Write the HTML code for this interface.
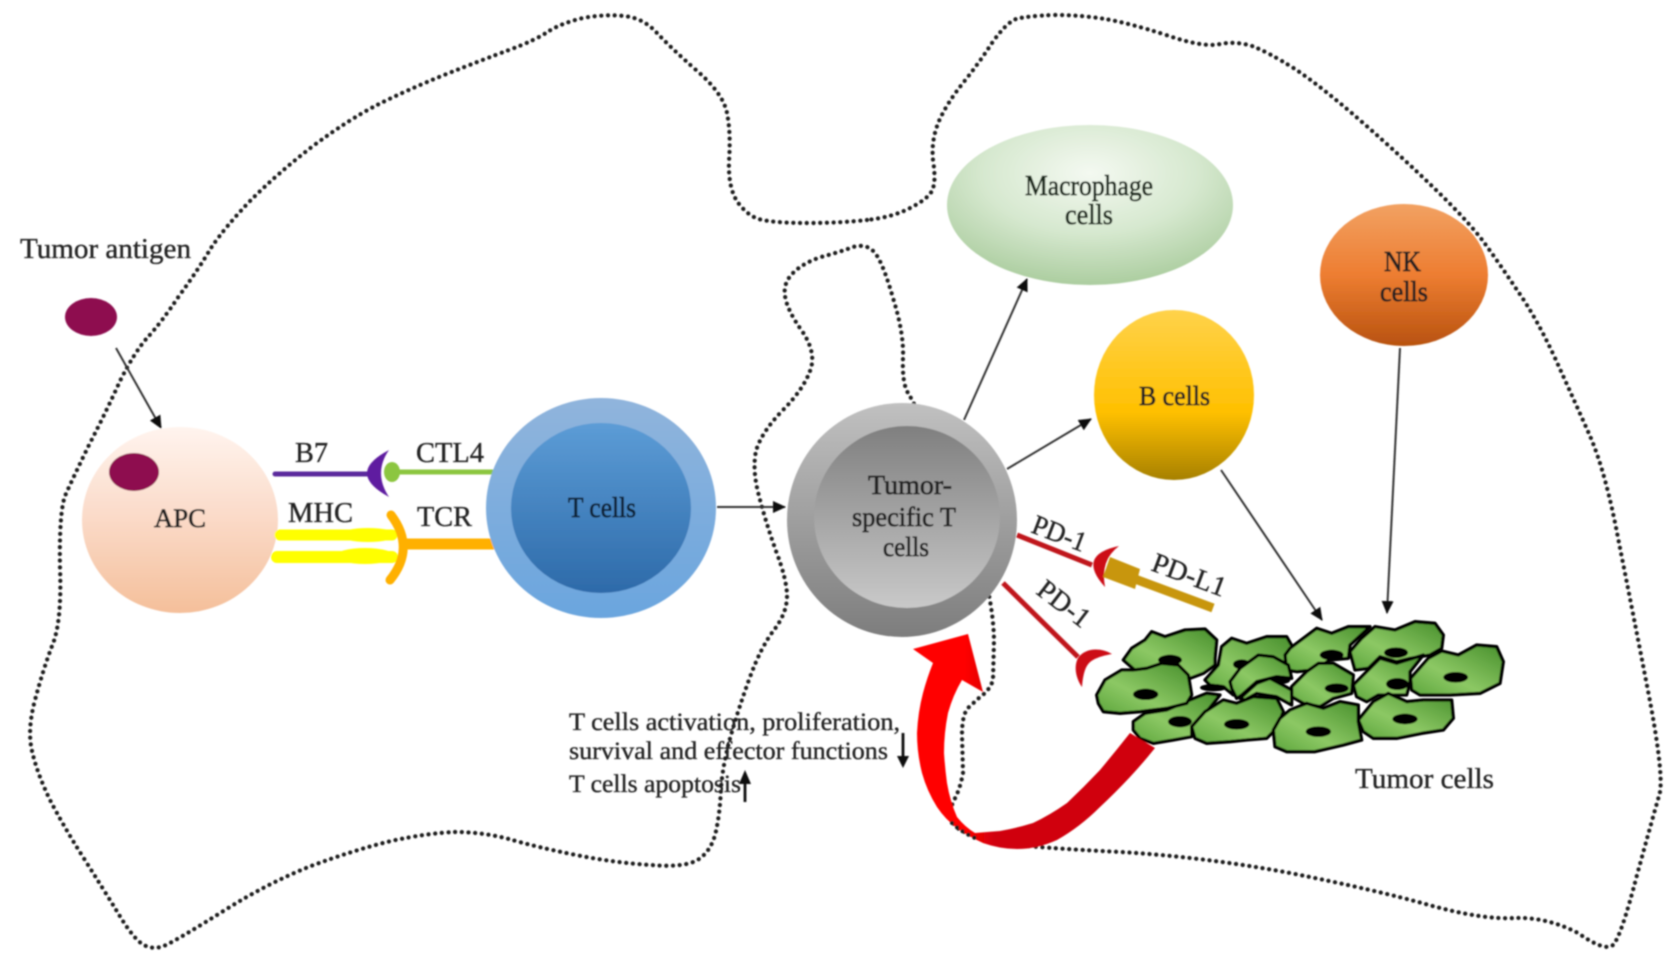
<!DOCTYPE html>
<html>
<head>
<meta charset="utf-8">
<style>
html,body{margin:0;padding:0;background:#fff;width:1677px;height:965px;overflow:hidden}
svg{display:block}
text{font-family:"Liberation Serif",serif;fill:#222;stroke:#222;stroke-width:.35px;font-size:28px}
.b{stroke-width:.7px}
.c{stroke:#000;stroke-width:10;stroke-linejoin:round;fill:url(#cell)}
.n{fill:#000}
.a{stroke:#333;stroke-width:2;fill:none;marker-end:url(#ah)}
</style>
</head>
<body>
<svg width="1677" height="965" viewBox="0 0 1677 965" xmlns="http://www.w3.org/2000/svg">
<defs>
<filter id="soft" x="-5%" y="-5%" width="110%" height="110%"><feGaussianBlur stdDeviation="0.7"/></filter>
<marker id="ah" markerUnits="userSpaceOnUse" markerWidth="14" markerHeight="12" refX="12" refY="6" orient="auto"><path d="M0,0 L13,6 L0,12 Z" fill="#111"/></marker>
<linearGradient id="apc" x1="0" y1="0" x2="0" y2="1"><stop offset="0" stop-color="#fff4ee"/><stop offset=".45" stop-color="#fbdccb"/><stop offset="1" stop-color="#f4bf9a"/></linearGradient>
<linearGradient id="t1" x1="0" y1="0" x2="0" y2="1"><stop offset="0" stop-color="#90b4dc"/><stop offset="1" stop-color="#6aa5de"/></linearGradient>
<linearGradient id="t2" x1="0" y1="0" x2="0" y2="1"><stop offset="0" stop-color="#5c9cd6"/><stop offset="1" stop-color="#2d6aa9"/></linearGradient>
<linearGradient id="g1" x1="0" y1="0" x2="0" y2="1"><stop offset="0" stop-color="#c0c0c0"/><stop offset="1" stop-color="#7d7d7d"/></linearGradient>
<linearGradient id="g2" x1="0" y1="0" x2="0" y2="1"><stop offset="0" stop-color="#7f7f7f"/><stop offset="1" stop-color="#c9c9c9"/></linearGradient>
<radialGradient id="mac" cx=".5" cy=".3" r=".75"><stop offset="0" stop-color="#f4f9f1"/><stop offset=".5" stop-color="#d6e8cf"/><stop offset="1" stop-color="#a5c998"/></radialGradient>
<linearGradient id="b" x1="0" y1="0" x2="0" y2="1"><stop offset="0" stop-color="#ffd24a"/><stop offset=".6" stop-color="#ffc000"/><stop offset="1" stop-color="#a68000"/></linearGradient>
<linearGradient id="nk" x1="0" y1="0" x2="0" y2="1"><stop offset="0" stop-color="#f2a162"/><stop offset=".5" stop-color="#ed7d31"/><stop offset="1" stop-color="#b8520f"/></linearGradient>
<linearGradient id="cell" x1="0" y1="1" x2="1" y2="0"><stop offset="0" stop-color="#5ca53c"/><stop offset=".4" stop-color="#8cc864"/><stop offset="1" stop-color="#478f2c"/></linearGradient>
<linearGradient id="red" gradientUnits="userSpaceOnUse" x1="965" y1="0" x2="995" y2="0"><stop offset="0" stop-color="#ff0000"/><stop offset="1" stop-color="#d0000a"/></linearGradient>
</defs>
<rect width="1677" height="965" fill="#fff"/>
<g filter="url(#soft)">

<!-- dotted outline -->
<path fill="none" stroke="#1a1a1a" stroke-width="4.2" stroke-linecap="round" stroke-dasharray="0.1 6.6" d="M867,220 Q840,223 808,223 Q777,223 763,220 Q750,218 739,204 Q728,190 729,161 Q731,133 727,113 Q723,93 696,70 Q670,47 656,32 Q643,18 624,16 Q605,14 583,18 Q562,23 549,31 Q536,40 509,50 Q482,60 444,75 Q407,90 377,105 Q348,120 313,146 Q278,173 251,200 Q225,227 211,248 Q198,270 179,296 Q161,323 147,338 Q134,353 120,381 Q107,410 89,445 Q72,480 65,496 Q59,513 60,568 Q62,623 52,646 Q43,670 35,700 Q27,730 32,751 Q37,773 50,800 Q64,827 83,857 Q102,887 118,913 Q134,940 144,945 Q155,951 168,944 Q182,937 225,910 Q268,883 311,866 Q354,850 391,841 Q428,833 455,832 Q482,832 509,839 Q536,847 576,855 Q616,863 651,865 Q686,868 699,859 Q712,850 716,831 Q720,813 721,788 Q723,763 731,735 Q739,707 750,677 Q761,647 774,630 Q787,613 787,596 Q787,580 776,551 Q766,523 759,496 Q752,470 756,451 Q761,433 782,411 Q803,390 810,371 Q817,353 802,331 Q787,310 785,296 Q783,283 793,273 Q803,263 821,257 Q840,252 853,247 Q867,243 875,253 Q883,263 893,298 Q904,333 903,358 Q902,383 908,393 Q915,404 937,452 Q960,500 976,548 Q993,597 994,640 L993,680 Q990,690 980,697 L968,708 Q962,715 962,735 L963,773 Q960,790 953,802 Q948,815 955,826 Q965,835 998,843 Q1038,848 1121,852 Q1204,857 1290,873 Q1376,890 1429,905 Q1483,920 1515,918 Q1547,917 1578,933 Q1605,952 1613,945 Q1621,937 1637,875 Q1654,813 1659,796 Q1665,780 1649,696 Q1633,613 1619,543 Q1606,473 1590,436 Q1574,400 1555,358 Q1536,317 1517,290 Q1499,263 1483,241 Q1467,220 1434,188 Q1402,157 1362,122 Q1322,87 1295,69 Q1268,52 1252,46 Q1236,41 1220,44 Q1204,48 1166,35 Q1129,23 1105,19 Q1081,15 1054,15 Q1027,16 1016,19 Q1006,23 992,43 Q979,63 963,83 Q947,103 939,121 Q931,140 933,160 Q936,180 933,188 Q931,197 912,207 Q894,217 867,220 Z"/>

<!-- antigen -->
<ellipse cx="91" cy="317" rx="26" ry="19" fill="#8e1150"/>
<line class="a" x1="116" y1="348" x2="161" y2="428"/>

<!-- APC -->
<ellipse cx="180" cy="520" rx="98" ry="93" fill="url(#apc)"/>
<ellipse cx="134" cy="472" rx="25" ry="19" fill="#8e1150"/>

<!-- Receptors -->
<line x1="275" y1="474" x2="368" y2="474" stroke="#5b2a9d" stroke-width="5" stroke-linecap="round"/>
<path d="M389,450 Q345,473 389,497 Q373,473 389,450Z" fill="#5f1fa0"/>
<ellipse cx="392" cy="472" rx="8" ry="10" fill="#8cc63f"/>
<line x1="392" y1="472" x2="497" y2="472" stroke="#8cc63f" stroke-width="5"/>
<line x1="280" y1="535" x2="392" y2="535" stroke="#ffff00" stroke-width="11" stroke-linecap="round"/>
<line x1="277" y1="557" x2="392" y2="557" stroke="#ffff00" stroke-width="12" stroke-linecap="round"/>
<ellipse cx="368" cy="535" rx="28" ry="7" fill="#ffff00"/>
<ellipse cx="365" cy="556" rx="30" ry="8" fill="#ffff00"/>
<line x1="400" y1="544" x2="497" y2="544" stroke="#ffb000" stroke-width="11"/>
<path d="M391,515 Q416,548 390,580" fill="none" stroke="#ffb000" stroke-width="9" stroke-linecap="round"/>

<!-- T cells -->
<ellipse cx="601" cy="508" rx="115" ry="110" fill="url(#t1)"/>
<ellipse cx="601" cy="508" rx="90" ry="85" fill="url(#t2)"/>
<line class="a" x1="717" y1="507" x2="785" y2="507"/>

<!-- Tumor-specific T -->
<ellipse cx="902" cy="520" rx="115" ry="117" fill="url(#g1)"/>
<ellipse cx="907" cy="517" rx="93" ry="91" fill="url(#g2)"/>

<!-- Others -->
<ellipse cx="1090" cy="205" rx="143" ry="80" fill="url(#mac)"/>
<ellipse cx="1174" cy="395" rx="80" ry="85" fill="url(#b)"/>
<ellipse cx="1404" cy="275" rx="84" ry="71" fill="url(#nk)"/>

<line class="a" x1="964" y1="420" x2="1027" y2="279"/>
<line class="a" x1="1007" y1="469" x2="1091" y2="419"/>
<line class="a" x1="1221" y1="470" x2="1322" y2="620"/>
<line class="a" x1="1400" y1="348" x2="1387" y2="613"/>

<!-- PD-1 / PD-L1 -->
<line x1="1017" y1="535" x2="1092" y2="565" stroke="#c0141c" stroke-width="5"/>
<path d="M1119,546 Q1076,555 1105,587 Q1100,560 1119,546Z" fill="#cc0a14"/>
<polygon points="1110,557 1140,569 1135,589 1103,577" fill="#c8960e"/>
<line x1="1135" y1="579" x2="1213" y2="608" stroke="#c8960e" stroke-width="9"/>
<line x1="1003" y1="583" x2="1078" y2="657" stroke="#c0141c" stroke-width="5"/>
<path d="M1112,654 C1100,647 1085,648 1078,658 C1073,668 1077,680 1082,687 C1083,675 1085,664 1093,660 C1098,657 1106,655 1112,654Z" fill="#cc0a14"/>

<!-- Tumor cells : left crop frame -->
<g transform="translate(1090,615) scale(.33333)">
 <polygon class="c" points="100,135 125,100 165,75 185,50 225,65 285,45 345,42 380,75 375,130 375,150 340,175 300,190 200,190 140,170"/>
 <ellipse class="n" cx="240" cy="135" rx="36" ry="16"/>
 <polygon class="c" points="345,195 385,150 395,95 425,70 470,85 530,65 590,65 610,100 600,190 500,230 430,240 400,215 360,210"/>
 <ellipse class="n" cx="370" cy="218" rx="40" ry="11"/>
 <ellipse class="n" cx="455" cy="148" rx="26" ry="15"/>
</g>
<!-- right crop frame -->
<g transform="translate(1290,615) scale(.33333)">
 <polygon class="c" points="-15,120 0,100 40,70 80,40 125,55 175,35 240,35 180,90 175,130 120,135 70,165 20,170 -10,165"/>
 <ellipse class="n" cx="125" cy="120" rx="36" ry="16"/>
 <polygon class="c" points="180,110 215,70 255,35 315,45 375,20 435,25 460,60 455,100 420,120 360,130 320,140 270,125 235,160 195,165"/>
 <ellipse class="n" cx="318" cy="113" rx="36" ry="16"/>
 <polygon class="c" points="5,215 50,170 85,145 130,145 190,180 185,235 130,250 90,275 40,265 5,245"/>
 <ellipse class="n" cx="140" cy="220" rx="36" ry="15"/>
 <polygon class="c" points="190,210 240,160 270,130 320,145 400,120 360,170 360,200 350,240 265,240 230,260 200,245"/>
 <ellipse class="n" cx="322" cy="207" rx="34" ry="18"/>
</g>
<g transform="translate(1090,615) scale(.33333)">
 <polygon class="c" points="420,200 450,160 505,120 550,125 595,150 605,190 560,185 500,200 455,240 440,250 425,220"/>
 <ellipse class="n" cx="575" cy="195" rx="26" ry="12"/>
 <polygon class="c" points="450,250 500,205 540,190 605,225 605,270 560,245 500,235 465,255"/>
</g>
<g transform="translate(1290,615) scale(.33333)">
 <polygon class="c" points="362,190 415,130 455,108 505,120 560,90 620,95 640,140 630,205 570,235 480,240 390,240 365,225"/>
 <ellipse class="n" cx="497" cy="187" rx="37" ry="16"/>
 <polygon class="c" points="205,315 250,260 295,235 350,260 400,255 485,255 490,310 460,345 395,355 320,370 250,370 220,350"/>
 <ellipse class="n" cx="345" cy="312" rx="38" ry="16"/>
</g>
<g transform="translate(1090,615) scale(.33333)">
 <polygon class="c" points="130,320 165,295 230,285 300,255 350,235 390,240 350,290 305,340 305,365 250,375 190,385 150,370 130,345"/>
 <ellipse class="n" cx="270" cy="320" rx="36" ry="17"/>
 <polygon class="c" points="20,240 45,195 95,165 130,165 170,160 215,145 265,150 295,180 305,240 290,265 230,280 150,290 90,295 40,290 25,265"/>
 <ellipse class="n" cx="167" cy="238" rx="38" ry="17"/>
 <polygon class="c" points="305,335 345,290 400,255 440,265 490,245 560,250 580,290 560,340 530,370 470,375 420,380 350,385 315,370"/>
 <ellipse class="n" cx="440" cy="328" rx="38" ry="16"/>
</g>
<g transform="translate(1290,615) scale(.33333)">
 <polygon class="c" points="-50,345 -30,310 0,285 50,265 100,280 150,260 205,270 205,320 215,375 160,390 75,410 -10,410 -45,395"/>
 <ellipse class="n" cx="85" cy="350" rx="38" ry="16"/>
</g>

<!-- Red curved arrow -->
<path fill="url(#red)" d="M1130,733 L1155,748 Q1143,763 1130,777 Q1115,793 1100,807 Q1080,827 1057,840 Q1037,849 1017,849 Q1000,849 983,843 Q970,837 957,828 Q945,819 937,807 Q927,791 922,773 Q917,753 917,733 Q918,712 923,693 Q927,678 933,663 L913,649 L968,634 L983,692 L962,680 Q953,695 948,713 Q944,733 944,753 Q945,768 947,783 Q950,801 957,817 Q965,827 975,833 Q987,832 1000,831 Q1017,828 1033,823 Q1050,815 1067,803 Q1084,787 1100,770 Q1115,752 1130,733 Z"/>
<path fill="none" stroke="#1a1a1a" stroke-width="4.2" stroke-linecap="round" stroke-dasharray="0.1 6.6" d="M952,823 Q960,831 975,838"/>

<!-- small arrows -->
<line x1="903" y1="733" x2="903" y2="758" stroke="#111" stroke-width="2.8"/>
<path d="M897,756 L909,756 L903,768 Z" fill="#111"/>
<line x1="745" y1="782" x2="745" y2="802" stroke="#111" stroke-width="2.8"/>
<path d="M739,784 L751,784 L745,770 Z" fill="#111"/>

<!-- Labels -->
<text x="20" y="258" textLength="171" lengthAdjust="spacingAndGlyphs">Tumor antigen</text>
<text x="295" y="462" textLength="33" lengthAdjust="spacingAndGlyphs">B7</text>
<text x="416" y="462" textLength="68" lengthAdjust="spacingAndGlyphs">CTL4</text>
<text x="288" y="522" textLength="65" lengthAdjust="spacingAndGlyphs">MHC</text>
<text x="417" y="526" textLength="55" lengthAdjust="spacingAndGlyphs">TCR</text>
<text class="b" x="154" y="527" textLength="52" lengthAdjust="spacingAndGlyphs" style="font-size:26px">APC</text>
<text class="b" x="568" y="517" textLength="68" lengthAdjust="spacingAndGlyphs" style="fill:#0e2036;stroke:#0e2036;font-size:28px">T cells</text>
<text class="b" x="868" y="494" textLength="84" lengthAdjust="spacingAndGlyphs" style="font-size:27px">Tumor-</text>
<text class="b" x="852" y="526" textLength="104" lengthAdjust="spacingAndGlyphs" style="font-size:27px">specific T</text>
<text class="b" x="883" y="556" textLength="46" lengthAdjust="spacingAndGlyphs" style="font-size:27px">cells</text>
<text class="b" x="1025" y="195" textLength="128" lengthAdjust="spacingAndGlyphs" style="fill:#1d2a1d;stroke:#1d2a1d;font-size:28px">Macrophage</text>
<text class="b" x="1065" y="224" textLength="48" lengthAdjust="spacingAndGlyphs" style="fill:#1d2a1d;stroke:#1d2a1d;font-size:28px">cells</text>
<text class="b" x="1384" y="271" textLength="37" lengthAdjust="spacingAndGlyphs" style="font-size:28px">NK</text>
<text class="b" x="1380" y="301" textLength="48" lengthAdjust="spacingAndGlyphs" style="font-size:28px">cells</text>
<text class="b" x="1139" y="405" textLength="71" lengthAdjust="spacingAndGlyphs" style="font-size:27px">B cells</text>
<text x="1355" y="788" textLength="139" lengthAdjust="spacingAndGlyphs" style="font-size:29px">Tumor cells</text>
<text x="569" y="730" textLength="331" lengthAdjust="spacingAndGlyphs" style="font-size:25px">T cells activation, proliferation,</text>
<text x="569" y="759" textLength="319" lengthAdjust="spacingAndGlyphs" style="font-size:25px">survival and effector functions</text>
<text x="569" y="792" textLength="172" lengthAdjust="spacingAndGlyphs" style="font-size:25px">T cells apoptosis</text>
<text transform="translate(1030,532) rotate(21)" textLength="56" lengthAdjust="spacingAndGlyphs">PD-1</text>
<text transform="translate(1035,593) rotate(37.5)" textLength="59" lengthAdjust="spacingAndGlyphs">PD-1</text>
<text transform="translate(1150,570) rotate(20.5)" textLength="77" lengthAdjust="spacingAndGlyphs">PD-L1</text>
</g>
</svg>
</body>
</html>
